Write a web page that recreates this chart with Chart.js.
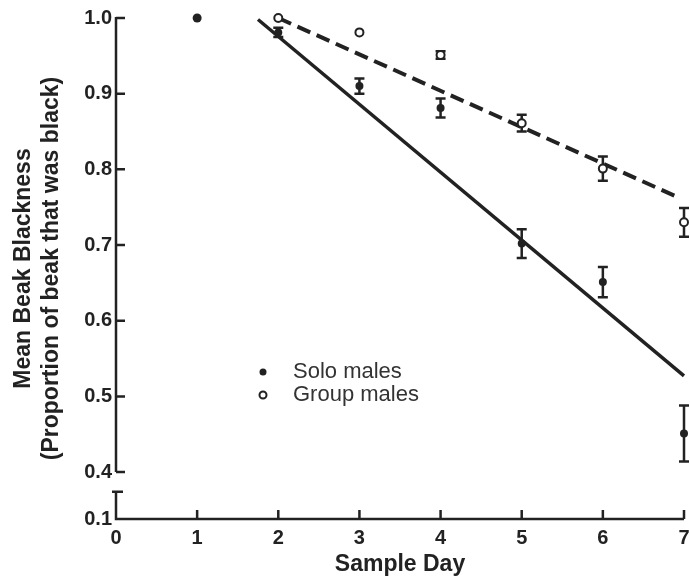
<!DOCTYPE html>
<html>
<head>
<meta charset="utf-8">
<script src="https://cdn.jsdelivr.net/npm/chart.js@4"></script>
<style>
  body { margin: 0; background: #fff; }
  #wrap { width: 690px; height: 580px; }
</style>
</head>
<body>
<div id="wrap"><canvas id="beak"></canvas></div>
<script>
// data
const soloDays = [1, 2, 3, 4, 5, 6, 7];
const soloMean = [1.0, 0.981, 0.910, 0.881, 0.702, 0.651, 0.451];
const soloErr = [0, 0.006, 0.010, 0.0125, 0.019, 0.020, 0.037];

const groupDays = [2, 3, 4, 5, 6, 7];
const groupMean = [1.0, 0.981, 0.951, 0.861, 0.801, 0.730];
const groupErr = [0, 0, 0.005, 0.011, 0.016, 0.019];

// regression lines (end points)
const soloFitX = [1.75, 7];
const soloFitY = [0.998, 0.527];
const groupFitX = [2, 6.93];
const groupFitY = [1.0, 0.763];

const yTicks = [0.4, 0.5, 0.6, 0.7, 0.8, 0.9, 1.0];
const yBreakLabel = "0.1";
const yAxisBottom = 0.338; // where the 0.1 stub meets the x axis
const yBreakTop = 0.374;   // top of the lower stub

const ink = "#222";
Chart.defaults.font.family = "'Liberation Sans', Arial, sans-serif";
Chart.defaults.color = ink;

const pts = (xs, ys) => xs.map((x, i) => ({ x: x, y: ys[i] }));

// error bars, drawn under the markers
const errorBars = {
  id: "errorBars",
  beforeDatasetsDraw(chart) {
    const { ctx, scales: { x, y } } = chart;
    ctx.save();
    ctx.strokeStyle = ink;
    ctx.lineWidth = 2.5;
    chart.data.datasets.forEach(ds => {
      if (!ds.err) return;
      ds.data.forEach((p, i) => {
        const e = ds.err[i];
        if (!e) return;
        const px = x.getPixelForValue(p.x);
        const top = y.getPixelForValue(p.y + e);
        const bot = y.getPixelForValue(p.y - e);
        ctx.beginPath();
        ctx.moveTo(px, top); ctx.lineTo(px, bot);
        ctx.moveTo(px - 5, top); ctx.lineTo(px + 5, top);
        ctx.moveTo(px - 5, bot); ctx.lineTo(px + 5, bot);
        ctx.stroke();
      });
    });
    ctx.restore();
  }
};

// broken y axis and inward ticks
const brokenAxes = {
  id: "brokenAxes",
  afterDraw(chart) {
    const { ctx, scales: { x, y } } = chart;
    const x0 = x.getPixelForValue(0);
    const yb = y.getPixelForValue(yAxisBottom);
    ctx.save();
    ctx.strokeStyle = ink;
    ctx.lineWidth = 2.5;
    ctx.beginPath();
    // upper part of y axis
    ctx.moveTo(x0, y.getPixelForValue(1.0) - 1);
    ctx.lineTo(x0, y.getPixelForValue(0.4));
    yTicks.forEach(v => {
      const py = y.getPixelForValue(v);
      ctx.moveTo(x0, py); ctx.lineTo(x0 + 9, py);
    });
    // lower stub after the break
    const ys = y.getPixelForValue(yBreakTop);
    ctx.moveTo(x0 - 4, ys); ctx.lineTo(x0 + 7, ys);
    ctx.moveTo(x0, ys); ctx.lineTo(x0, yb);
    // x axis
    ctx.moveTo(x0 - 1.25, yb);
    ctx.lineTo(x.getPixelForValue(7), yb);
    x.ticks.forEach(t => {
      if (t.value === 0) return;
      const px = x.getPixelForValue(t.value);
      ctx.moveTo(px, yb); ctx.lineTo(px, yb - 9);
    });
    ctx.stroke();
    ctx.restore();
  }
};

// legend placed inside the plot
const innerLegend = {
  id: "innerLegend",
  afterDraw(chart) {
    const ctx = chart.ctx;
    const items = chart.data.datasets.filter(d => d.inLegend);
    ctx.save();
    ctx.font = "22px 'Liberation Sans', Arial, sans-serif";
    ctx.textBaseline = "middle";
    items.forEach((d, i) => {
      const cy = 372 + i * 23;
      ctx.beginPath();
      ctx.arc(263, cy, 3.5, 0, Math.PI * 2);
      ctx.fillStyle = d.backgroundColor;
      ctx.fill();
      if (d.borderWidth) {
        ctx.lineWidth = 2;
        ctx.strokeStyle = ink;
        ctx.stroke();
      }
      ctx.fillStyle = "#333";
      ctx.fillText(d.label, 293, cy);
    });
    ctx.restore();
  }
};

new Chart(document.getElementById("beak"), {
  type: "scatter",
  data: {
    datasets: [
      {
        label: "Solo fit",
        data: pts(soloFitX, soloFitY),
        showLine: true,
        borderColor: ink,
        borderWidth: 3.5,
        pointRadius: 0,
        clip: false,
        order: 4
      },
      {
        label: "Group fit",
        data: pts(groupFitX, groupFitY),
        showLine: true,
        borderColor: ink,
        borderWidth: 4,
        borderDash: [14, 7],
        pointRadius: 0,
        clip: false,
        order: 3
      },
      {
        label: "Solo males",
        data: pts(soloDays, soloMean),
        err: soloErr,
        inLegend: true,
        backgroundColor: ink,
        borderWidth: 0,
        pointRadius: ctx => (ctx.dataIndex === 0 ? 4.5 : 4),
        clip: false,
        order: 2
      },
      {
        label: "Group males",
        data: pts(groupDays, groupMean),
        err: groupErr,
        inLegend: true,
        backgroundColor: "#fff",
        borderColor: ink,
        borderWidth: 2,
        pointRadius: 4,
        clip: false,
        order: 1
      }
    ]
  },
  options: {
    responsive: true,
    maintainAspectRatio: false,
    animation: false,
    layout: { padding: { top: 18, right: 0, left: 0, bottom: 0 } },
    plugins: { legend: { display: false }, tooltip: { enabled: false } },
    scales: {
      x: {
        type: "linear",
        min: 0,
        max: 7,
        grid: { display: false, drawTicks: false },
        border: { display: false },
        ticks: {
          stepSize: 1,
          autoSkip: false,
          padding: 7,
          maxRotation: 0,
          font: { size: 20, weight: "bold" }
        },
        title: {
          display: true,
          text: "Sample Day",
          font: { size: 23, weight: "bold" },
          padding: { top: 0, bottom: 2 }
        },
        afterFit: s => { s.height = 61; s.paddingRight = 6; }
      },
      y: {
        type: "linear",
        min: yAxisBottom,
        max: 1.0,
        grid: { display: false, drawTicks: false },
        border: { display: false },
        afterBuildTicks: s => {
          s.ticks = [yAxisBottom].concat(yTicks).map(v => ({ value: v }));
        },
        ticks: {
          autoSkip: false,
          padding: 4,
          font: { size: 20, weight: "bold" },
          callback: v => (v === yAxisBottom ? yBreakLabel : v.toFixed(1))
        },
        title: {
          display: true,
          text: ["Mean Beak Blackness", "(Proportion of beak that was black)"],
          font: { size: 23, weight: "bold", lineHeight: 1.22 },
          padding: { top: 10, bottom: 0 }
        },
        afterFit: s => { s.width = 116; }
      }
    }
  },
  plugins: [errorBars, brokenAxes, innerLegend]
});
</script>
</body>
</html>
